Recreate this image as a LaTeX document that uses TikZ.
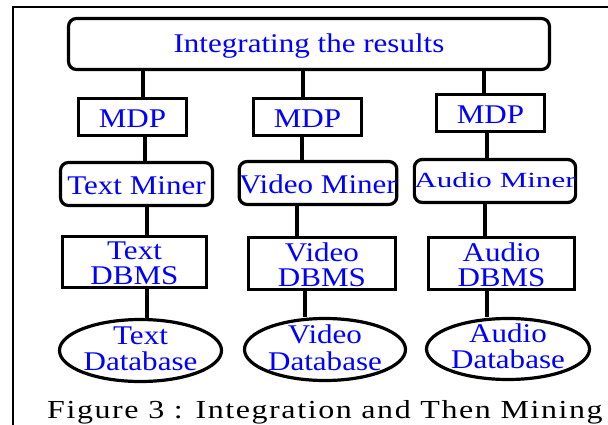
\documentclass[tikz,border=0pt]{standalone}
\usepackage{fontspec}
\setmainfont{Liberation Serif}
\newfontfamily\capfont[LetterSpace=5]{Liberation Serif}
\newcommand\bt[2][5pt]{\raisebox{-#1}[\height][\depth]{\scalebox{1.15}[1]{\begin{tabular}{@{}c@{}}#2\end{tabular}}}}
\usetikzlibrary{shapes.geometric}
\begin{document}
\begin{tikzpicture}[x=1pt,y=-1pt,
  box/.style={draw,line width=3.2pt,rectangle,inner sep=0pt,text=blue,
    font=\fontsize{27}{25}\selectfont},
  rbox/.style={box,rounded corners=8pt},
  dbell/.style={draw,line width=3.2pt,ellipse,inner sep=0pt},
  txt/.style={text=blue,font=\fontsize{27}{26}\selectfont,inner sep=0pt},
  conn/.style={line width=3.2pt},
  framel/.style={line width=2.6pt}]
\useasboundingbox (0,0) rectangle (608,425);
% frame
\draw[framel] (13,425) -- (13,7) -- (608,7);
% top box
\node[rbox,minimum width=481pt,minimum height=51pt] (top) at (309,44) {\bt[3pt]{Integrating the results}};
% MDP boxes
\node[box,minimum width=108pt,minimum height=37pt] (mdpA) at (132.5,117) {\bt{MDP}};
\node[box,minimum width=108pt,minimum height=37pt] (mdpB) at (307.5,117) {\bt{MDP}};
\node[box,minimum width=108pt,minimum height=37pt] (mdpC) at (490.5,113) {\bt{MDP}};
% miners
\node[rbox,minimum width=152pt,minimum height=43pt] (minA) at (136.5,184) {\bt{Text Miner}};
\node[rbox,minimum width=153pt,minimum height=43pt] (minB) at (318,183) {\bt{Video Miner}};
\node[rbox,minimum width=153pt,minimum height=43pt] (minC) at (495,181) {\scalebox{1}[0.8]{\bt[3pt]{Audio Miner}}};
% DBMS
\node[box,minimum width=144pt,minimum height=51pt] (dbA) at (134.5,262) {\bt[5pt]{Text\\DBMS}};
\node[box,minimum width=147pt,minimum height=50pt] (dbB) at (322,263.5) {\bt[5pt]{Video\\DBMS}};
\node[box,minimum width=146pt,minimum height=50pt] (dbC) at (501.5,263.5) {\bt[5pt]{Audio\\DBMS}};
% databases
\node[dbell,minimum width=162pt,minimum height=62pt,label={[txt]center:{\bt[2pt]{Text\\Database}}}] (elA) at (140.5,350.5) {};
\node[dbell,minimum width=161pt,minimum height=62pt,label={[txt]center:{\bt[2pt]{Video\\Database}}}] (elB) at (325,349.5) {};
\node[dbell,minimum width=163pt,minimum height=61pt,label={[txt]center:{\bt[1pt]{Audio\\Database}}}] (elC) at (508,349) {};
% connectors
\draw[conn] (top.south -| 143,0) -- (mdpA.north -| 143,0);
\draw[conn] (top.south -| 303,0) -- (mdpB.north -| 303,0);
\draw[conn] (top.south -| 484,0) -- (mdpC.north -| 484,0);
\draw[conn] (mdpA.south -| 145,0) -- (minA.north -| 145,0);
\draw[conn] (mdpB.south -| 302,0) -- (minB.north -| 302,0);
\draw[conn] (mdpC.south -| 487,0) -- (minC.north -| 487,0);
\draw[conn] (minA.south -| 147,0) -- (dbA.north -| 147,0);
\draw[conn] (minB.south -| 297,0) -- (dbB.north -| 297,0);
\draw[conn] (minC.south -| 485,0) -- (dbC.north -| 485,0);
\draw[conn] (dbA.south -| 147,0) -- (elA.north -| 147,0);
\draw[conn] (dbB.south -| 305,0) -- (elB.north -| 305,0);
\draw[conn] (dbC.south -| 487,0) -- (elC.north -| 487,0);
% caption
\node[anchor=base west,inner sep=0pt,font=\capfont\fontsize{26}{26}\selectfont] (cap) at (47,418) {\scalebox{1.23}[1]{Figure 3 : Integration and Then Mining}};
\end{tikzpicture}
\end{document}
